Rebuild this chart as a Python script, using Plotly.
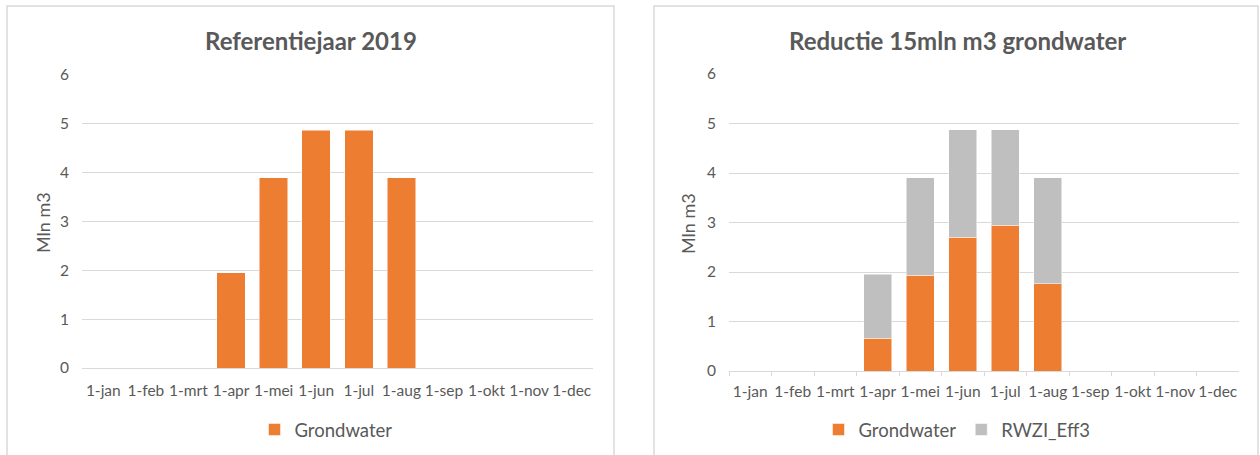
import plotly.graph_objects as go

# Monthly volumes (million m3)
months = ["1-jan", "1-feb", "1-mrt", "1-apr", "1-mei", "1-jun",
          "1-jul", "1-aug", "1-sep", "1-okt", "1-nov", "1-dec"]
ref_grondwater = [0, 0, 0, 1.95, 3.90, 4.87, 4.87, 3.90, 0, 0, 0, 0]
red_grondwater = [0, 0, 0, 0.66, 1.93, 2.70, 2.94, 1.76, 0, 0, 0, 0]
red_rwzi = [0, 0, 0, 1.29, 1.97, 2.17, 1.93, 2.14, 0, 0, 0, 0]

title_left = "Referentiejaar 2019"
title_right = "Reductie 15mln m3 grondwater"
y_title = "Mln m3"

ORANGE = "#ED7D31"
GREY = "#BFBFBF"
TEXT = "#595959"
GRID = "#D9D9D9"
FONT = "Lato"

W, H = 1260, 455


def px_x(v):
    return v / W


def px_y(v):
    return 1 - v / H


fig = go.Figure()

fig.add_trace(go.Bar(
    x=months, y=ref_grondwater, name="Grondwater",
    marker=dict(color=ORANGE, line=dict(color="rgba(255,255,255,0.5)", width=1)),
    xaxis="x", yaxis="y", legend="legend",
))
fig.add_trace(go.Bar(
    x=months, y=red_grondwater, name="Grondwater",
    marker=dict(color=ORANGE, line=dict(color="rgba(255,255,255,0.5)", width=1)),
    xaxis="x2", yaxis="y2", legend="legend2",
))
fig.add_trace(go.Bar(
    x=months, y=red_rwzi, name="RWZI_Eff3",
    marker=dict(color=GREY, line=dict(color="rgba(255,255,255,0.5)", width=1)),
    xaxis="x2", yaxis="y2", legend="legend2",
))

tickfont = dict(family=FONT, size=15.5, color=TEXT)

common_y = dict(range=[0, 6], dtick=1, showgrid=True, gridcolor=GRID, gridwidth=1,
                zeroline=False, showline=False, tickfont=tickfont, ticks="",
                ticklabelstandoff=12, fixedrange=True, automargin=False)

legend_font = dict(family=FONT, size=18.5, color=TEXT)

fig.update_layout(
    width=W, height=H, autosize=False,
    margin=dict(l=0, r=0, t=0, b=0, pad=0, autoexpand=False),
    paper_bgcolor="white", plot_bgcolor="white",
    barmode="stack", bargap=0.33,
    font=dict(family=FONT, color=TEXT),
    xaxis=dict(domain=[px_x(82), px_x(593)], anchor="y", type="category",
               showline=True, linecolor=GRID, linewidth=1, ticks="", tickangle=0,
               tickfont=tickfont, ticklabelstandoff=8, fixedrange=True, automargin=False),
    yaxis=dict(domain=[px_y(368), px_y(75)], anchor="x", **common_y),
    xaxis2=dict(domain=[px_x(729), px_x(1239)], anchor="y2", type="category",
                showline=True, linecolor=GRID, linewidth=1, tickangle=0,
                ticks="outside", tickson="boundaries", ticklen=4, tickcolor=GRID,
                tickfont=tickfont, ticklabelstandoff=6, fixedrange=True, automargin=False),
    yaxis2=dict(domain=[px_y(371), px_y(74)], anchor="x2", **common_y),
    legend=dict(orientation="h", x=px_x(326), xanchor="center", y=px_y(430), yanchor="middle",
                font=legend_font, traceorder="normal", bgcolor="rgba(0,0,0,0)"),
    legend2=dict(orientation="h", x=px_x(957), xanchor="center", y=px_y(430), yanchor="middle",
                 font=legend_font, traceorder="normal", bgcolor="rgba(0,0,0,0)"),
    showlegend=True,
)

# Chart-area frames (open at the bottom edge of the canvas)
for x0, x1 in [(7, 614), (654, 1258)]:
    fig.add_shape(type="rect", xref="paper", yref="paper",
                  x0=px_x(x0), x1=px_x(x1), y0=px_y(6), y1=-0.05,
                  line=dict(color=GRID, width=1.5), fillcolor="rgba(0,0,0,0)", layer="below")

# Chart titles
for cx, txt in [(311, title_left), (957, title_right)]:
    fig.add_annotation(text=f"<b>{txt}</b>", xref="paper", yref="paper",
                       x=px_x(cx), y=px_y(40), xanchor="center", yanchor="middle",
                       showarrow=False, font=dict(family=FONT, size=24, color=TEXT))

# Value axis titles
for cx, cy in [(43, 222), (688, 223)]:
    fig.add_annotation(text=y_title, xref="paper", yref="paper",
                       x=px_x(cx), y=px_y(cy), xanchor="center", yanchor="middle",
                       textangle=-90, showarrow=False,
                       font=dict(family=FONT, size=18, color=TEXT))

fig.write_html(
    "out.html",
    post_script="document.body.style.margin='0';document.body.style.overflow='hidden';",
)
